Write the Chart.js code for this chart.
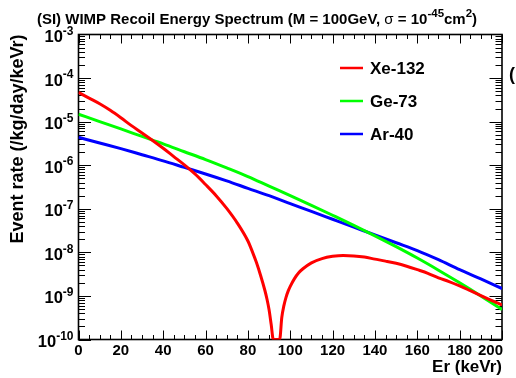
<!DOCTYPE html>
<html><head><meta charset="utf-8">
<script src="https://cdn.jsdelivr.net/npm/chart.js@4.4.1/dist/chart.umd.min.js"></script>
<style>html,body{margin:0;padding:0;background:#fff;overflow:hidden}</style>
</head><body><canvas id="c" width="516" height="378"></canvas>
<script>
// title pieces: [text, kind] kind: 'b' bold, 'r' regular, 's' bold superscript
const titleParts = [['(SI) WIMP Recoil Energy Spectrum (M = 100GeV, ', 'b'], ['\u03C3', 'r'], [' = 10', 'b'], ['-45', 's'], ['cm', 'b'], ['2', 's'], [')', 'b']];
const xTitle = 'Er (keVr)';
const yTitle = 'Event rate (/kg/day/keVr)';
const seriesNames = ['Xe-132', 'Ge-73', 'Ar-40'];
const seriesColors = ['#ff0000', '#00ff00', '#0000ff'];

const xeEnergy = [0,5,10,15,20,25,30,35,40,45,50,55,60,65,70,75,80,82,84,86,88,89,90,91,92,93,94,95,96,97,98,99,100,102,104,106,110,115,120,125,130,135,140,145,150,155,160,165,170,175,180,185,190,195,200];
const xeRate = [4.68e-5,3.47e-5,2.57e-5,1.82e-5,1.23e-5,8.1e-6,5.5e-6,3.7e-6,2.45e-6,1.58e-6,1.02e-6,6.3e-7,3.6e-7,2.0e-7,1.02e-7,4.7e-8,1.82e-8,1.07e-8,5.9e-9,2.95e-9,1.35e-9,8.5e-10,4.8e-10,2.2e-10,1e-10,1e-10,1e-10,1e-10,3.2e-10,6.0e-10,9.3e-10,1.29e-9,1.66e-9,2.5e-9,3.4e-9,4.2e-9,5.75e-9,7.2e-9,8.1e-9,8.5e-9,8.3e-9,7.8e-9,7.0e-9,6.3e-9,5.6e-9,4.8e-9,4.0e-9,3.3e-9,2.6e-9,2.14e-9,1.7e-9,1.32e-9,1.02e-9,7.9e-10,6.2e-10];

const geEnergy = [0,10,20,30,40,50,60,70,80,90,100,110,120,130,140,150,160,170,180,190,200];
const geRate = [1.48e-5,1.0e-5,6.8e-6,4.57e-6,3.09e-6,2.04e-6,1.35e-6,8.7e-7,5.5e-7,3.31e-7,2.0e-7,1.2e-7,7.1e-8,4.17e-8,2.4e-8,1.35e-8,7.4e-9,3.9e-9,2.0e-9,1.0e-9,4.9e-10];

const arEnergy = [0,10,20,30,40,50,60,70,80,90,100,110,120,130,140,150,160,170,180,190,200];
const arRate = [4.37e-6,3.24e-6,2.4e-6,1.74e-6,1.26e-6,8.9e-7,6.3e-7,4.37e-7,2.95e-7,2.0e-7,1.32e-7,8.7e-8,5.75e-8,3.8e-8,2.51e-8,1.66e-8,1.1e-8,6.8e-9,4.0e-9,2.45e-9,1.48e-9];

const yDecades = [-10,-9,-8,-7,-6,-5,-4,-3];
const xTickLabels = [0,20,40,60,80,100,120,140,160,180,200];

const FONT = "'Liberation Sans', Arial, Helvetica, sans-serif";

function pts(xs, ys){ return xs.map((x,i) => ({x: x, y: ys[i]})); }

const frameTicks = {
  id: 'frameTicks',
  beforeDatasetsDraw(chart){
    const {ctx, chartArea: a, scales: {x, y}} = chart;
    ctx.save();
    ctx.strokeStyle = '#000';
    ctx.lineWidth = 1;
    ctx.beginPath();
    for (let v = 0; v <= 200; v += 5) {
      const px = Math.round(x.getPixelForValue(v)) + 0.5;
      const len = (v % 20 === 0) ? 9 : 4.5;
      ctx.moveTo(px, a.bottom); ctx.lineTo(px, a.bottom - len);
      ctx.moveTo(px, a.top); ctx.lineTo(px, a.top + len);
    }
    for (let e = yDecades[0]; e < yDecades[yDecades.length-1]; e++) {
      for (let m = 1; m <= 9; m++) {
        const py = Math.round(y.getPixelForValue(m * Math.pow(10, e))) + 0.5;
        const len = (m === 1) ? 12.5 : 6.5;
        ctx.moveTo(a.left, py); ctx.lineTo(a.left + len, py);
        ctx.moveTo(a.right, py); ctx.lineTo(a.right - len, py);
      }
    }
    ctx.stroke();
    ctx.lineWidth = 1.6;
    ctx.strokeRect(a.left, a.top, a.right - a.left, a.bottom - a.top);
    ctx.restore();
  },
  afterDraw(chart){
    const {ctx, chartArea: a, scales: {x, y}} = chart;
    ctx.save();
    ctx.fillStyle = '#000';
    ctx.textBaseline = 'alphabetic';
    // title
    const fonts = {b: 'bold 15px ' + FONT, r: '15px ' + FONT, s: 'bold 11.5px ' + FONT};
    let total = 0;
    titleParts.forEach(p => { ctx.font = fonts[p[1]]; total += ctx.measureText(p[0]).width; });
    let tx = 257 - total / 2;
    ctx.textAlign = 'left';
    titleParts.forEach(p => {
      ctx.font = fonts[p[1]];
      ctx.fillText(p[0], tx, p[1] === 's' ? 23.5 - 6.6 : 23.5);
      tx += ctx.measureText(p[0]).width;
    });
    // y tick labels 10^n
    const right = a.left - 5;
    yDecades.forEach(e => {
      const py = y.getPixelForValue(Math.pow(10, e));
      ctx.font = 'bold 12px ' + FONT;
      ctx.textAlign = 'right';
      const ex = String(e);
      ctx.fillText(ex, right, py + 0.2);
      const w = ctx.measureText(ex).width;
      ctx.font = 'bold 16.5px ' + FONT;
      ctx.fillText('10', right - w, py + 7.5);
    });
    // x tick labels (last one kept inside the frame, as in the original)
    ctx.font = 'bold 15px ' + FONT;
    ctx.textBaseline = 'middle';
    xTickLabels.forEach((v, i) => {
      const px = x.getPixelForValue(v);
      const last = i === xTickLabels.length - 1;
      ctx.textAlign = last ? 'right' : 'center';
      ctx.fillText(String(v), last ? px + 1 : px, 350.5);
    });
    // legend
    ctx.font = 'bold 17px ' + FONT;
    ctx.textAlign = 'left';
    const rows = [68, 101, 134];
    chart.data.datasets.forEach((ds, i) => {
      ctx.strokeStyle = ds.borderColor;
      ctx.lineWidth = 2.5;
      ctx.beginPath();
      ctx.moveTo(340, rows[i]); ctx.lineTo(363, rows[i]);
      ctx.stroke();
      ctx.fillText(ds.label, 370, rows[i] + 1);
    });
    ctx.font = 'bold 18px ' + FONT;
    ctx.fillText('(', 509, 75);
    ctx.restore();
  }
};

new Chart(document.getElementById('c'), {
  type: 'line',
  data: {
    datasets: [
      {label: seriesNames[0], data: pts(xeEnergy, xeRate), borderColor: seriesColors[0]},
      {label: seriesNames[1], data: pts(geEnergy, geRate), borderColor: seriesColors[1]},
      {label: seriesNames[2], data: pts(arEnergy, arRate), borderColor: seriesColors[2]}
    ].map(d => Object.assign(d, {borderWidth: 3, pointRadius: 0, fill: false, cubicInterpolationMode: 'monotone'}))
  },
  options: {
    responsive: false,
    animation: false,
    devicePixelRatio: 1,
    layout: {padding: {left: 0, right: 14, top: 34.5, bottom: 0}},
    plugins: {
      legend: {display: false},
      tooltip: {enabled: false},
      title: {display: false}
    },
    scales: {
      x: {
        type: 'linear', min: 0, max: 200,
        grid: {display: false, drawTicks: false}, border: {display: false},
        afterBuildTicks: s => { s.ticks = xTickLabels.map(v => ({value: v})); },
        afterFit: s => { s.height = 38.5; },
        ticks: {color: 'rgba(0,0,0,0)', font: {family: FONT, size: 15, weight: 'bold', lineHeight: 1.2}, padding: 2, autoSkip: false, maxRotation: 0, callback: v => ''},
        title: {display: true, text: xTitle, align: 'end', color: '#000',
          font: {family: FONT, size: 17, weight: 'bold', lineHeight: 1.2}, padding: {top: 0, bottom: 0}}
      },
      y: {
        type: 'logarithmic', min: 1e-10, max: 1e-3,
        grid: {display: false, drawTicks: false}, border: {display: false},
        afterBuildTicks: s => { s.ticks = yDecades.map(e => ({value: Math.pow(10, e)})); },
        afterFit: s => { s.width = 78.5; },
        ticks: {display: true, color: 'rgba(0,0,0,0)', font: {family: FONT, size: 16, weight: 'bold'}, padding: 5, autoSkip: false,
          callback: v => ''},
        title: {display: true, text: yTitle, align: 'end', color: '#000',
          font: {family: FONT, size: 18, weight: 'bold', lineHeight: 1.2}, padding: {top: 7, bottom: 0}}
      }
    }
  },
  plugins: [frameTicks]
});
</script>
</body></html>
